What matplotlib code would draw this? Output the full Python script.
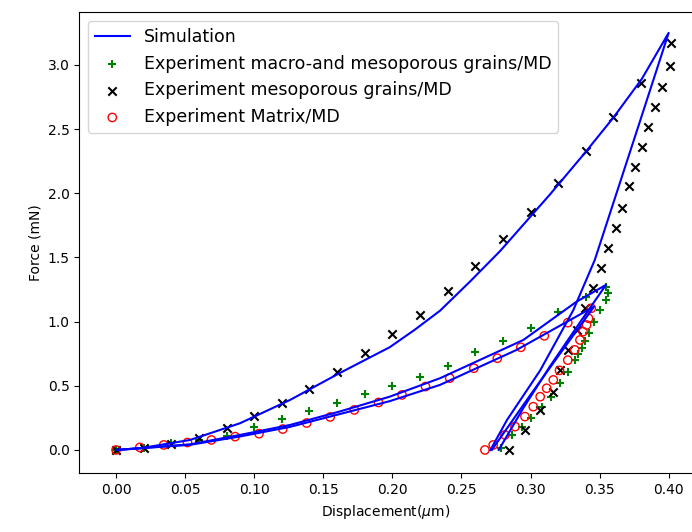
import numpy as np
import matplotlib
matplotlib.use('Agg')
from matplotlib import pyplot as plt

# simulation loops (loading then unloading)
sim1_x = [0, 0.0174, 0.0536, 0.0897, 0.126, 0.162, 0.198, 0.216, 0.2345, 0.256, 0.278, 0.296, 0.314, 0.339,
          0.36, 0.3805, 0.40,
          0.378, 0.3465, 0.331, 0.307, 0.283, 0.271]
sim1_y = [0, 0.013, 0.078, 0.208, 0.39, 0.60, 0.80, 0.935, 1.085, 1.31, 1.55, 1.77, 1.99, 2.31,
          2.59, 2.89, 3.25,
          2.52, 1.48, 1.09, 0.62, 0.234, 0.0]

sim2_x = [0, 0.0536, 0.0897, 0.126, 0.162, 0.198, 0.2345, 0.2948, 0.3334, 0.3546,
          0.333, 0.314, 0.295, 0.277]
sim2_y = [0, 0.044, 0.117, 0.195, 0.30, 0.415, 0.559, 0.857, 1.156, 1.286,
          0.95, 0.65, 0.33, 0.0]

sim3_x = [0, 0.0536, 0.0897, 0.126, 0.162, 0.198, 0.2345, 0.29, 0.346,
          0.32, 0.30, 0.272]
sim3_y = [0, 0.04, 0.105, 0.18, 0.28, 0.38, 0.507, 0.78, 1.117,
          0.73, 0.43, 0.0]

# experiment macro-and mesoporous grains
green_x = [0, 0.02, 0.04, 0.06, 0.08, 0.10, 0.12, 0.14, 0.16, 0.18, 0.20, 0.22, 0.24, 0.26, 0.28, 0.30, 0.32, 0.34,
           0.355, 0.3563, 0.3543, 0.350, 0.346, 0.3425, 0.3395, 0.337, 0.3345, 0.332, 0.327, 0.3215, 0.315,
           0.308, 0.300, 0.2936, 0.2864, 0.279]
green_y = [0, 0.015, 0.052, 0.075, 0.109, 0.182, 0.245, 0.305, 0.369, 0.438, 0.497, 0.571, 0.655, 0.76, 0.852,
           0.948, 1.078, 1.195,
           1.273, 1.225, 1.17, 1.09, 1.0, 0.909, 0.85, 0.792, 0.745, 0.70, 0.61, 0.52, 0.415,
           0.337, 0.247, 0.182, 0.117, 0.013]

# experiment mesoporous grains
black_x = [0, 0.02, 0.04, 0.06, 0.08, 0.10, 0.12, 0.14, 0.16, 0.18, 0.20, 0.22, 0.24, 0.26, 0.28, 0.30, 0.32, 0.34,
           0.36, 0.38, 0.4017,
           0.401, 0.395, 0.390, 0.385, 0.381, 0.3756, 0.371, 0.366, 0.362, 0.356, 0.351, 0.3455, 0.3394,
           0.3334, 0.3273, 0.3215, 0.3165, 0.307, 0.296, 0.2847]
black_y = [0, 0.013, 0.044, 0.091, 0.169, 0.265, 0.364, 0.478, 0.608, 0.753, 0.902, 1.052, 1.242, 1.437, 1.642,
           1.858, 2.083, 2.333, 2.593, 2.858, 3.175,
           2.988, 2.832, 2.676, 2.52, 2.364, 2.208, 2.058, 1.884, 1.728, 1.572, 1.416, 1.265, 1.104,
           0.935, 0.779, 0.623, 0.454, 0.312, 0.156, 0.0]

# experiment matrix
red_x = [0, 0.0172, 0.0345, 0.0517, 0.069, 0.0862, 0.1035, 0.1207, 0.138, 0.155, 0.1725, 0.19, 0.207, 0.224,
         0.2415, 0.259, 0.276, 0.293, 0.31, 0.327, 0.344,
         0.342, 0.3406, 0.338, 0.3358, 0.332, 0.327, 0.321, 0.3165, 0.3117, 0.307, 0.302, 0.296, 0.2888,
         0.2815, 0.273, 0.267]
red_y = [0, 0.02, 0.039, 0.058, 0.078, 0.104, 0.127, 0.163, 0.21, 0.257, 0.312, 0.37, 0.429, 0.494,
         0.56, 0.637, 0.715, 0.80, 0.889, 0.992, 1.104,
         1.026, 0.974, 0.922, 0.857, 0.78, 0.70, 0.62, 0.546, 0.481, 0.415, 0.337, 0.26, 0.182,
         0.117, 0.039, 0.0]

fig = plt.figure(figsize=(6.92, 5.32), dpi=100)
ax = fig.add_axes([0.1146, 0.1103, 0.8868, 0.8665])

ax.plot(sim1_x, sim1_y, color='blue', label='Simulation')
ax.plot(sim2_x, sim2_y, color='blue')
ax.plot(sim3_x, sim3_y, color='blue')
ax.scatter(green_x, green_y, marker='+', color='green', label='Experiment macro-and mesoporous grains/MD')
ax.scatter(black_x, black_y, marker='x', color='black', label='Experiment mesoporous grains/MD')
ax.scatter(red_x, red_y, marker='o', facecolors='none', edgecolors='red', label='Experiment Matrix/MD')

ax.set_xlim(-0.0266, 0.4176)
ax.set_ylim(-0.182, 3.41)
ax.set_xticks(np.arange(0, 0.41, 0.05))
ax.set_xlabel('Displacement($\\mu$m)')
ax.set_ylabel('Force (mN)')
ax.legend(loc='upper left', fontsize=12.5)

plt.savefig('out.png', dpi=100)
